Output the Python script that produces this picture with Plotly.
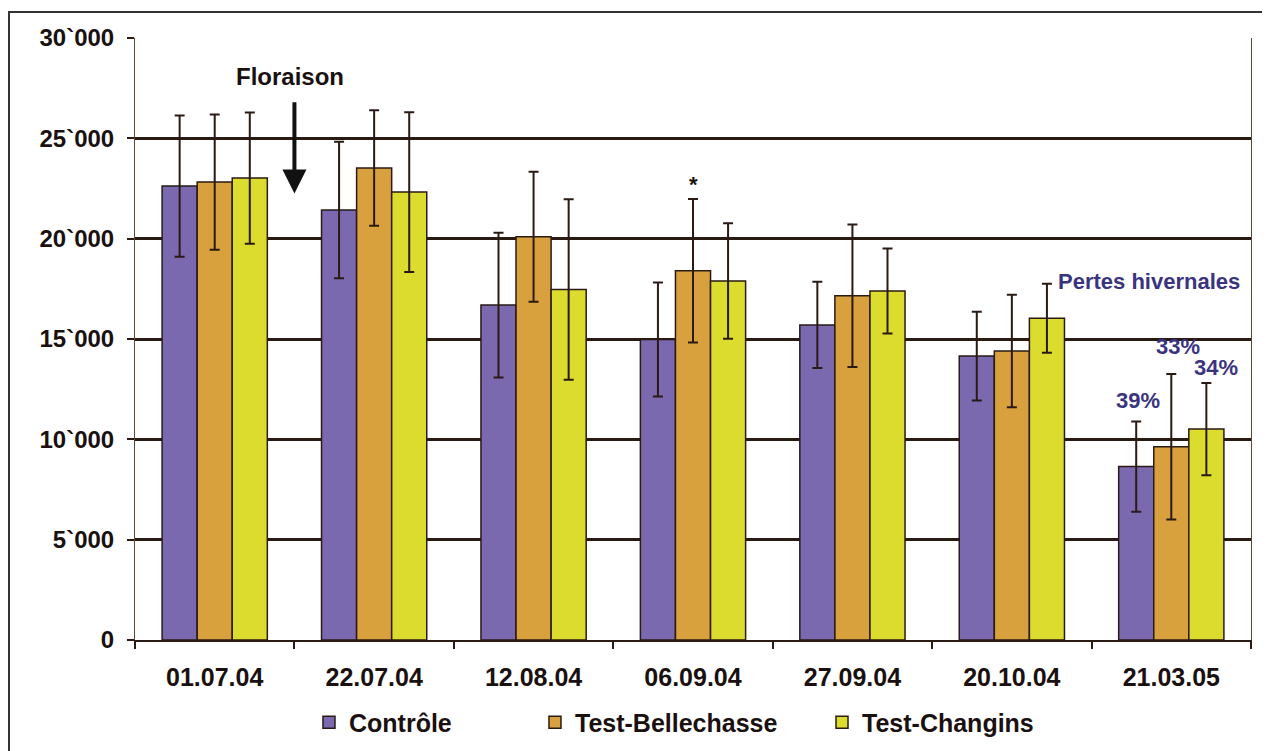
import plotly.graph_objects as go

categories = ["01.07.04", "22.07.04", "12.08.04", "06.09.04", "27.09.04", "20.10.04", "21.03.05"]
series_names = ["Contrôle", "Test-Bellechasse", "Test-Changins"]
controle = [22620, 21430, 16690, 14980, 15700, 14150, 8640]
controle_err = [3520, 3400, 3610, 2840, 2150, 2210, 2245]
bellechasse = [22820, 23520, 20100, 18400, 17160, 14400, 9630]
bellechasse_err = [3370, 2880, 3240, 3580, 3550, 2800, 3620]
changins = [23020, 22320, 17470, 17890, 17390, 16030, 10510]
changins_err = [3270, 3980, 4500, 2880, 2120, 1720, 2300]
y_tickvals = [0, 5000, 10000, 15000, 20000, 25000, 30000]
y_ticktext = ["0", "5`000", "10`000", "15`000", "20`000", "25`000", "30`000"]

colors = ["#7b69b0", "#d9a03e", "#dcdc2e"]
dark = "#2a1a14"
FONT = "Liberation Sans, Arial, sans-serif"
TXT = "#1a1010"

fig = go.Figure()
values = [controle, bellechasse, changins]
errs = [controle_err, bellechasse_err, changins_err]
legends = ["legend", "legend2", "legend3"]
for name, v, e, c, lg in zip(series_names, values, errs, colors, legends):
    fig.add_trace(go.Bar(
        x=categories, y=v, name=name, legend=lg,
        marker=dict(color=c, line=dict(color=dark, width=1.5)),
        error_y=dict(type="data", array=e, visible=True, color=dark, thickness=2, width=5),
    ))

legend_common = dict(orientation="h", yanchor="middle", xanchor="left", y=-0.137,
                     bgcolor="rgba(0,0,0,0)",
                     font=dict(family=FONT, size=25, color=TXT, weight="bold"))
fig.update_layout(
    legend=dict(x=0.1559, **legend_common),
    legend2=dict(x=0.3584, **legend_common),
    legend3=dict(x=0.6156, **legend_common),
)

fig.update_layout(
    width=1262, height=743,
    margin=dict(l=127, r=19, t=30, b=111, autoexpand=False),
    paper_bgcolor="white", plot_bgcolor="white",
    barmode="group", bargap=0.34, bargroupgap=0,
    showlegend=True,
    xaxis=dict(
        type="category", tickson="boundaries", ticks="outside", ticklen=7,
        tickwidth=1.5, tickcolor=dark, showline=True, linecolor=dark, linewidth=2,
        showgrid=False, ticklabelstandoff=14, automargin=False,
        tickfont=dict(family=FONT, size=25, color=TXT, weight="bold"),
    ),
    yaxis=dict(
        range=[0, 30000], tickvals=y_tickvals, ticktext=y_ticktext,
        ticks="outside", ticklen=7, tickwidth=1.5, tickcolor=dark,
        showline=True, linecolor="#5a4a30", linewidth=1, mirror=True,
        showgrid=True, gridcolor=dark, gridwidth=2.5, zeroline=False,
        ticklabelstandoff=8, automargin=False,
        tickfont=dict(family=FONT, size=24, color=TXT, weight="bold"),
    ),
)

# outer frame
fig.add_shape(type="rect", xref="paper", yref="paper",
              x0=-0.1129, y0=-0.25, x1=1.08, y1=1.0432,
              line=dict(color="#333333", width=2))

fig.add_annotation(x=0.47, y=28100, xref="x", yref="y", text="Floraison",
                   showarrow=False,
                   font=dict(family=FONT, size=24, color=TXT, weight="bold"))
fig.add_annotation(x=0.5, y=22250, ax=0.5, ay=27300, xref="x", yref="y",
                   axref="x", ayref="y", text=" ", showarrow=True,
                   arrowhead=2, arrowsize=1.2, arrowwidth=4, arrowcolor="#111111",
                   standoff=0, startstandoff=0)
fig.add_annotation(x=3, y=22700, xref="x", yref="y", text="*", showarrow=False,
                   font=dict(family=FONT, size=22, color=TXT, weight="bold"))

purple_txt = "#3a3480"
for txt, xx, yy in [("Pertes hivernales", 5.86, 17880), ("39%", 5.79, 11950),
                    ("33%", 6.04, 14630), ("34%", 6.28, 13570)]:
    fig.add_annotation(x=xx, y=yy, xref="x", yref="y", text=txt, showarrow=False,
                       font=dict(family=FONT, size=22, color=purple_txt, weight="bold"))

fig.write_html("out.html")
